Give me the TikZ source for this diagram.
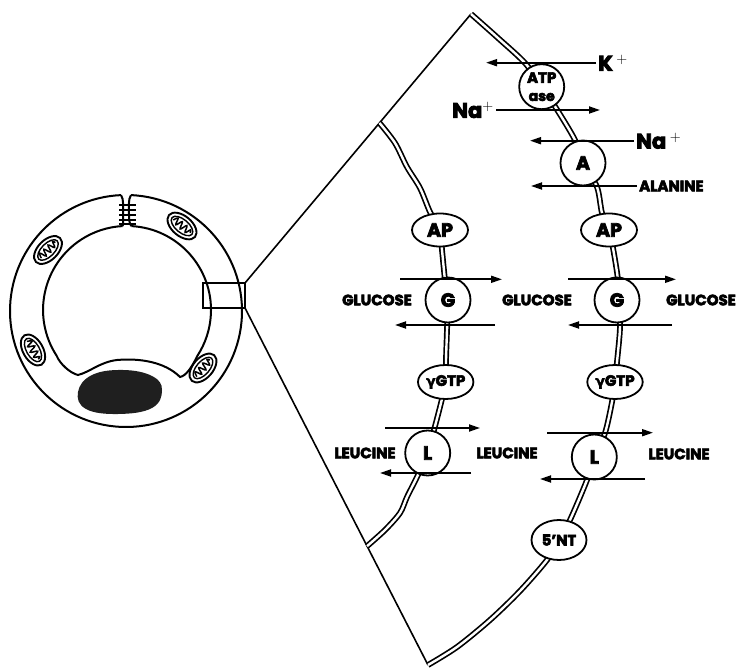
\documentclass[tikz,border=0pt]{standalone}
\usepackage{fontspec}
\setmainfont{Poppins}[BoldFont={Poppins Bold}, BoldFeatures={FakeBold=4}]
\newfontfamily\greekfont{DejaVu Sans}[FakeBold=2]
\usetikzlibrary{arrows.meta,calc,shapes.geometric}

\begin{document}
\begin{tikzpicture}[x=1pt,y=-1pt,
  cellline/.style={line width=2pt},
  thinline/.style={line width=1.6pt},
  membrane/.style={draw=black, line width=1.7pt, double=white, double distance=2.4pt},
  protein/.style={circle, draw, line width=1.8pt, fill=white, minimum size=45pt, inner sep=0pt,
    font=\bfseries\fontsize{19}{19}\selectfont},
  enzyme/.style={ellipse, draw, line width=1.8pt, fill=white, minimum width=55pt, minimum height=34pt,
    inner sep=0pt, font=\bfseries\fontsize{15}{15}\selectfont},
  ion/.style={inner sep=2pt, font=\bfseries\fontsize{21}{21}\selectfont},
  solute/.style={inner sep=2pt, font=\bfseries\fontsize{15}{15}\selectfont},
  flux/.style={line width=1.8pt, -{Triangle[length=11pt,width=7pt]}},
  mito/.pic={
    \draw[line width=1.9pt] (0,0) ellipse [x radius=17, y radius=10];
    \draw[line width=1.4pt] (0,0) ellipse [x radius=13, y radius=6.5];
    \draw[line width=1.5pt] plot[smooth, tension=0.7] coordinates
      {(-10.5,1) (-8,-3.5) (-5.5,3) (-2.5,-3.5) (0.5,3.5) (3.5,-3.5) (6.5,3) (9,-2.5) (10.5,0)};
  }
]
\useasboundingbox (0,0) rectangle (742,668);

% ---------- epithelial cell in section ----------
% outer contour, open at the junction
\draw[cellline] (126,311) ++(272.5:116) arc[start angle=272.5, end angle=627.5, radius=116];
% lateral membranes meeting at the junction
\draw[cellline] (121,195.1) .. controls (124,199) and (123,208) .. (123,214)
  .. controls (123,220) and (123.5,224) .. (122.6,226.1);
\draw[cellline] (131,195.1) .. controls (128,199) and (129,208) .. (129,214)
  .. controls (129,220) and (129.5,224) .. (131.4,226.1);
\foreach \ty in {205,210,215,220,224}
  \draw[line width=1.3pt] (119,\ty) -- (136,\ty);
% apical contour around the lumen
\draw[cellline] (131.4,226.1) arc[start angle=273, end angle=393, radius=84]
  .. controls (192,367) and (186,376) .. (180,377)
  .. controls (165,362) and (140,358) .. (117,360)
  .. controls (100,362) and (90,372) .. (78,375)
  .. controls (70,373) and (60,364) .. (56.6,355.7)
  arc[start angle=147, end angle=267, radius=84];
% nucleus
\fill[black!88] plot[smooth cycle, tension=0.7] coordinates
  {(78,392) (92,375) (123,370) (152,376) (162,390) (152,408) (118,414) (86,409)};
% mitochondria
\pic[rotate=45] at (48,250) {mito};
\pic[rotate=-40] at (182,226) {mito};
\pic[rotate=-60] at (33,350) {mito};
\pic[rotate=49] at (203,368) {mito};

% ---------- enlarged region ----------
\coordinate (boxNE) at (245,283);
\coordinate (boxSE) at (245,308);
\coordinate (apexT) at (471,14);
\coordinate (apexB) at (428,665);
\draw[thinline] (203,283) rectangle (boxSE);
\draw[thinline] (boxNE) -- (apexT);
\draw[thinline] (boxSE) -- (apexB);
\coordinate (lmTop) at ($(boxNE)!0.595!(apexT)$);
\coordinate (lmBot) at ($(boxSE)!0.667!(apexB)$);

% membranes
\draw[membrane] plot[smooth, tension=0.5] coordinates
  {(lmTop) (395,143) (407,167) (420,188) (430,212) (440,230) (442,250) (445,280) (448,300)
   (447,330) (446,360) (445.7,382) (441,403) (434,430) (427.7,453) (417,477) (407,497)
   (400,513) (385,530) (lmBot)};
\draw[membrane] plot[smooth, tension=0.5] coordinates
  {(apexT) (498,38) (525,63) (541.7,86.7) (556,108) (575,140) (583,163) (597,187) (602,213)
   (609,230) (613,248) (618,280) (618,300) (620,327) (617,362) (615,382) (612,402) (605,433)
   (594,457) (587,480) (570,520) (559,540) (547,560) (520,591) (490,620) (457,647) (apexB)};

% membrane proteins
\node[protein, align=center] (atp) at (541.7,86.7)
  {\fontsize{15}{11}\selectfont ATP\\[-1pt]\fontsize{14}{11}\selectfont ase};
\node[protein] (aa) at (583,163) {A};
\node[enzyme, minimum width=56pt, minimum height=33pt, font=\bfseries\fontsize{19}{19}\selectfont]
  (apL) at (440,230) {AP};
\node[enzyme, minimum width=56pt, minimum height=33pt, font=\bfseries\fontsize{19}{19}\selectfont]
  (apR) at (609,230) {AP};
\node[protein] (gL) at (448,300) {G};
\node[protein] (gR) at (617,300) {G};
\node[enzyme] (ggL) at (445.7,382) {{\greekfont\fontsize{14}{14}\selectfont γ}GTP};
\node[enzyme] (ggR) at (615,382) {{\greekfont\fontsize{14}{14}\selectfont γ}GTP};
\node[protein] (lL) at (427.7,453) {L};
\node[protein] (lR) at (594.3,457) {L};
\node[enzyme, minimum height=40pt] (nt) at (559,540) {5'NT};

% ions and solutes with their fluxes
\node[ion, anchor=west] (kp) at (596,62.7) {K\,$^{+}$};
\coordinate (kEnd) at (486,62.7);
\draw[flux] (kp.west) -- (kEnd);

\node[ion, anchor=east] (na1) at (496,110) {Na$^{+}$};
\coordinate (na1End) at (600,110);
\draw[flux] (na1.east) -- (na1End);

\node[ion, anchor=west] (na2) at (634,140.7) {Na\,$^{+}$};
\coordinate (na2End) at (530,140.7);
\draw[flux] (na2.west) -- (na2End);

\node[solute, anchor=west] (ala) at (637,186) {ALANINE};
\coordinate (alaEnd) at (531,186);
\draw[flux] (ala.west) -- (alaEnd);

\node[solute] (gluL) at (377,300) {GLUCOSE};
\node[solute] (gluM) at (537,300) {GLUCOSE};
\node[solute] (gluR) at (701,300) {GLUCOSE};
\coordinate (gLa) at (400,279.3);  \coordinate (gLb) at (502,279.3);
\coordinate (gLc) at (495,325);    \coordinate (gLd) at (395,325);
\coordinate (gRa) at (568,279.3);  \coordinate (gRb) at (676,279.3);
\coordinate (gRc) at (672,325);    \coordinate (gRd) at (568,325);
\draw[flux] (gLa) -- (gLb);
\draw[flux] (gLc) -- (gLd);
\draw[flux] (gRa) -- (gRb);
\draw[flux] (gRc) -- (gRd);

\node[solute] (leuL) at (365,453) {LEUCINE};
\node[solute] (leuM) at (507,453) {LEUCINE};
\node[solute] (leuR) at (679,454) {LEUCINE};
\coordinate (lLa) at (385,428);    \coordinate (lLb) at (480,428);
\coordinate (lLc) at (471,473);    \coordinate (lLd) at (380,473);
\coordinate (lRa) at (547,432.7);  \coordinate (lRb) at (653,432.7);
\coordinate (lRc) at (645,479);    \coordinate (lRd) at (540,479);
\draw[flux] (lLa) -- (lLb);
\draw[flux] (lLc) -- (lLd);
\draw[flux] (lRa) -- (lRb);
\draw[flux] (lRc) -- (lRd);
\end{tikzpicture}
\end{document}
